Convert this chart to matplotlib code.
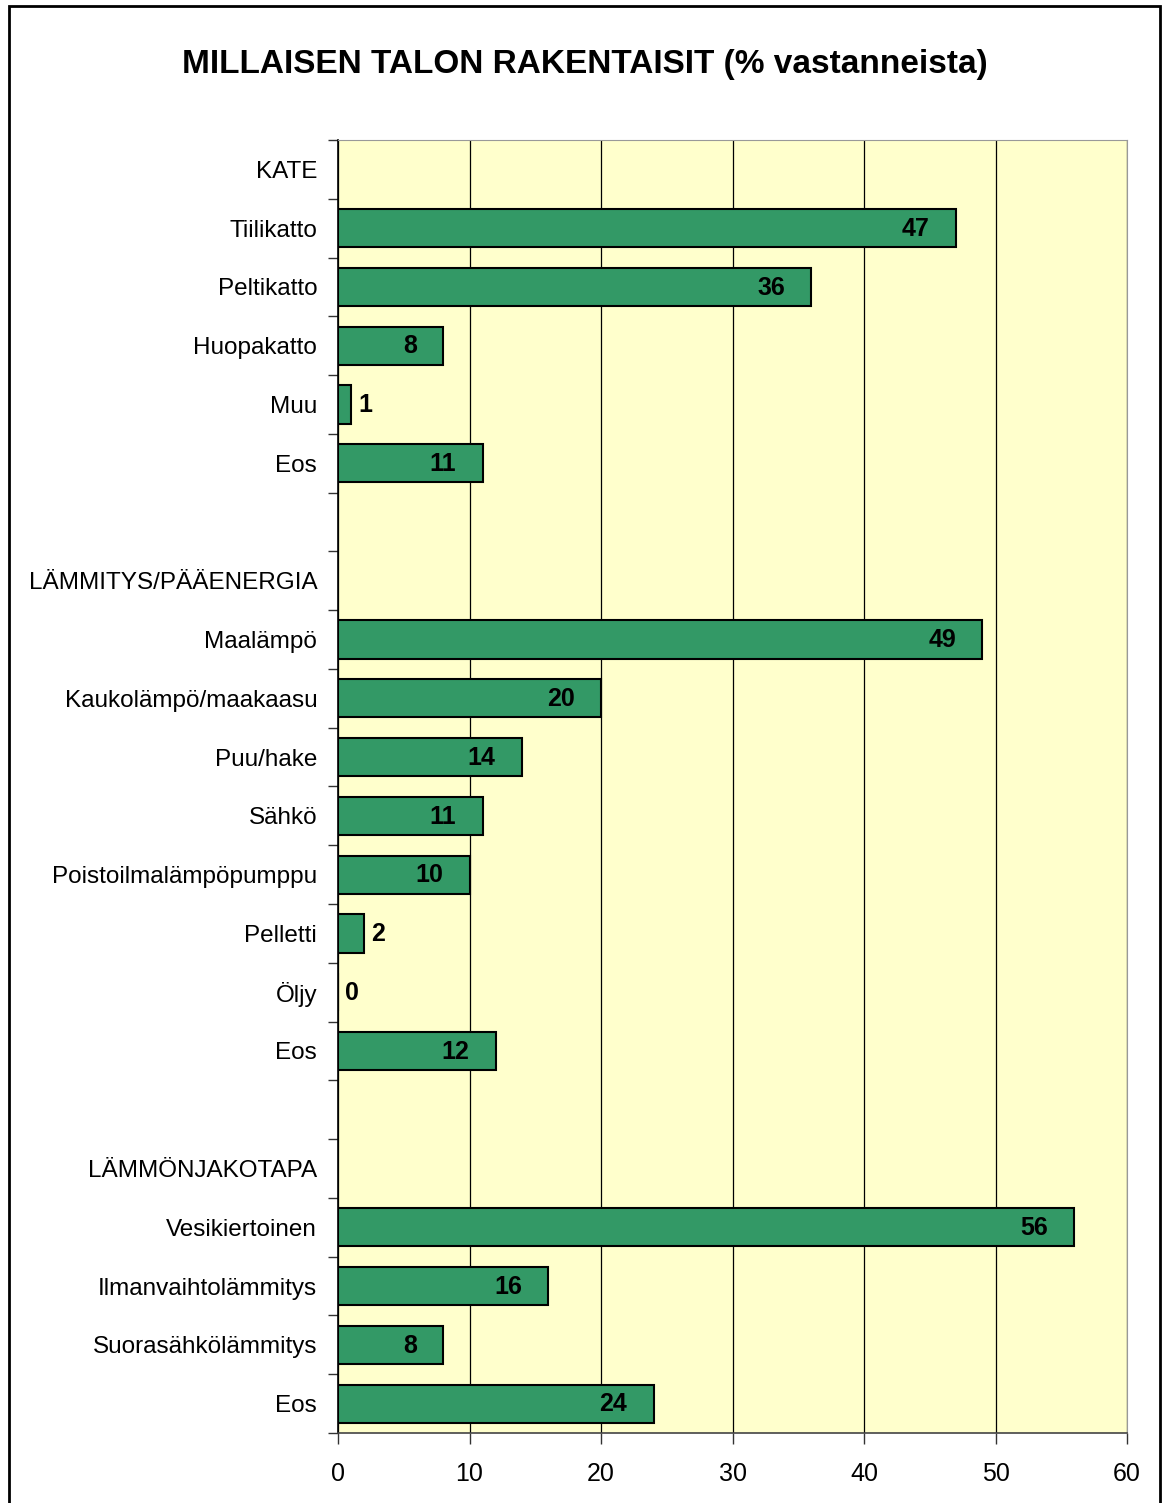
import matplotlib.pyplot as plt
from matplotlib.patches import Rectangle
from matplotlib.ticker import FixedLocator, NullFormatter
import numpy as np

plt.rcParams['font.family'] = ['Liberation Sans', 'DejaVu Sans']

TITLE = 'MILLAISEN TALON RAKENTAISIT (% vastanneista)'

# rows top to bottom; None marks a heading or spacer row without a bar
labels = ['KATE', 'Tiilikatto', 'Peltikatto', 'Huopakatto', 'Muu', 'Eos', '',
          'LÄMMITYS/PÄÄENERGIA', 'Maalämpö', 'Kaukolämpö/maakaasu', 'Puu/hake',
          'Sähkö', 'Poistoilmalämpöpumppu', 'Pelletti', 'Öljy', 'Eos', '',
          'LÄMMÖNJAKOTAPA', 'Vesikiertoinen', 'Ilmanvaihtolämmitys',
          'Suorasähkölämmitys', 'Eos']
values = [None, 47, 36, 8, 1, 11, None,
          None, 49, 20, 14, 11, 10, 2, 0, 12, None,
          None, 56, 16, 8, 24]
x_ticks = [0, 10, 20, 30, 40, 50, 60]

BAR_COLOR = '#339966'
BG_COLOR = '#FFFFCC'

fig = plt.figure(figsize=(11.63, 15.03), dpi=100)
ax = fig.add_axes([338 / 1163, 1 - 1433 / 1503, (1127 - 338) / 1163, (1433 - 140) / 1503])
ax.set_facecolor(BG_COLOR)

n = len(labels)
y = np.arange(n)
for yi, v in zip(y, values):
    if v is None:
        continue
    ax.barh(yi, v, height=0.65, color=BAR_COLOR, edgecolor='black', linewidth=1.5, zorder=3)
    if v >= 5:
        ax.annotate(str(v), (v, yi), xytext=(-19, -0.5), textcoords='offset points',
                    ha='right', va='center', fontsize=18, fontweight='bold', zorder=4)
    else:
        ax.annotate(str(v), (v, yi), xytext=(5, -0.5), textcoords='offset points',
                    ha='left', va='center', fontsize=18, fontweight='bold', zorder=4)

ax.set_xlim(0, 60)
ax.set_ylim(n - 0.5, -0.5)
ax.set_xticks(x_ticks)
ax.set_xticklabels([str(t) for t in x_ticks], fontsize=18)
ax.xaxis.grid(True, color='black', linewidth=0.9, zorder=1)
ax.set_axisbelow(True)

# category labels centred on rows, tick marks on row boundaries
ax.set_yticks(y)
ax.set_yticklabels(labels, fontsize=17.5)
ax.yaxis.set_minor_locator(FixedLocator(np.arange(-0.5, n, 1.0)))
ax.yaxis.set_minor_formatter(NullFormatter())
ax.tick_params(axis='y', which='major', length=0, pad=15)
ax.tick_params(axis='y', which='minor', length=7, width=1, color='#333333')
ax.tick_params(axis='x', which='major', length=8, width=1, color='#333333', pad=13)

ax.spines['left'].set_color('black')
ax.spines['left'].set_linewidth(1.2)
ax.spines['bottom'].set_color('#444444')
ax.spines['bottom'].set_linewidth(1.2)
ax.spines['top'].set_color('#999999')
ax.spines['right'].set_color('#999999')

fig.text(585 / 1163, 1 - 65 / 1503, TITLE, ha='center', va='center',
         fontsize=24, fontweight='bold')

# outer chart frame
fig.patches.append(Rectangle((9 / 1163, -0.01), (1160 - 9) / 1163, 1.01 - 6 / 1503,
                             transform=fig.transFigure, fill=False,
                             edgecolor='black', linewidth=2))

fig.savefig('out.png', dpi=100)
